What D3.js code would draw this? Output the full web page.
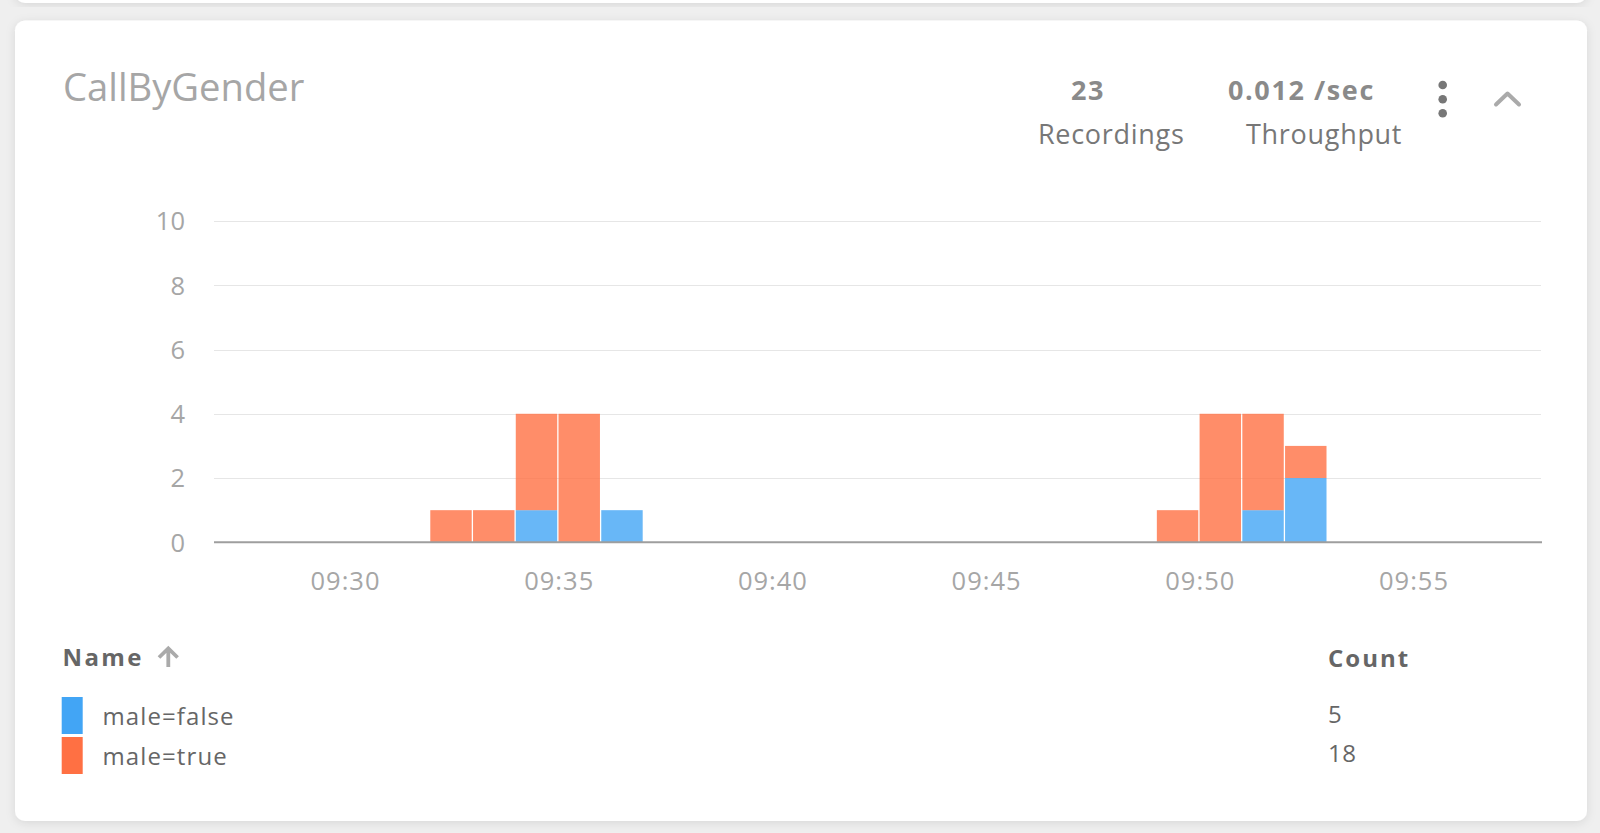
<!DOCTYPE html>
<html>
<head>
<meta charset="utf-8">
<script src="https://cdn.jsdelivr.net/npm/d3@7"></script>
<style>
  html, body { margin: 0; padding: 0; background: #efefef; overflow: hidden; }
  svg { display: block; font-family: "Open Sans", sans-serif; }
</style>
</head>
<body>
<svg id="chart" width="1600" height="833"></svg>
<script>
// ---- data ----
const title = "CallByGender";
const binTimes = ["09:32", "09:33", "09:34", "09:35", "09:36", "09:49", "09:50", "09:51", "09:52"];
const maleFalse = [0, 0, 1, 0, 1, 0, 0, 1, 2];
const maleTrue  = [1, 1, 3, 4, 0, 1, 4, 3, 1];
const seriesNames = ["male=false", "male=true"];
const seriesCounts = [5, 18];
const yTicks = [0, 2, 4, 6, 8, 10];
const xDomain = ["09:27", "09:58"];
const statValues = ["23", "0.012 /sec"];
const statLabels = ["Recordings", "Throughput"];

const colors = ["#42A5F5", "#FF7043"];

const parse = d3.timeParse("%H:%M");
const svg = d3.select("#chart");

// ---- cards ----
const defs = svg.append("defs");
const f = defs.append("filter").attr("id", "shadow").attr("x", "-5%").attr("y", "-10%").attr("width", "110%").attr("height", "120%");
f.append("feDropShadow").attr("dx", 0).attr("dy", 2).attr("stdDeviation", 5).attr("flood-color", "#000").attr("flood-opacity", 0.10);

svg.append("rect").attr("x", 15).attr("y", -30).attr("width", 1572).attr("height", 33)
  .attr("rx", 10).attr("fill", "#fff").attr("filter", "url(#shadow)");
svg.append("rect").attr("x", 15).attr("y", 20.5).attr("width", 1572).attr("height", 800.5)
  .attr("rx", 10).attr("fill", "#fff").attr("filter", "url(#shadow)");

// ---- header ----
svg.append("text").attr("x", 63).attr("y", 101).attr("font-size", 38.2).attr("fill", "#a6a6a6").text(title);

const statX = [1071, 1228];
const labelX = [1038, 1246];
statValues.forEach((v, i) => {
  svg.append("text").attr("x", statX[i]).attr("y", 99.5).attr("font-size", 27).attr("font-weight", 700)
    .attr("letter-spacing", 1.6).attr("fill", "#8a8a8a").text(v);
  svg.append("text").attr("x", labelX[i]).attr("y", 143.5).attr("font-size", 27)
    .attr("letter-spacing", 0.7).attr("fill", "#777").text(statLabels[i]);
});
[85, 99.3, 113.3].forEach(cy => {
  svg.append("circle").attr("cx", 1442.7).attr("cy", cy).attr("r", 4.3).attr("fill", "#777");
});
svg.append("path").attr("d", "M1496,104.5 L1507.5,93.5 L1519,104.5").attr("fill", "none")
  .attr("stroke", "#aaa").attr("stroke-width", 4).attr("stroke-linecap", "round").attr("stroke-linejoin", "round");

// ---- chart ----
const x = d3.scaleTime().domain(xDomain.map(parse)).range([216.3, 1541.2]);
const y = d3.scaleLinear().domain([0, 10]).range([542.3, 221]);
const plotLeft = 214, plotRight = 1542;

const grid = svg.append("g");
grid.selectAll("line").data(yTicks.filter(t => t > 0)).join("line")
  .attr("x1", plotLeft).attr("x2", plotRight - 1)
  .attr("y1", d => Math.round(y(d)) + 0.5).attr("y2", d => Math.round(y(d)) + 0.5)
  .attr("stroke", "#e6e6e6").attr("stroke-width", 1);

const yAxis = svg.append("g").attr("transform", `translate(${plotLeft},0)`)
  .call(d3.axisLeft(y).tickValues(yTicks).tickSize(0).tickPadding(29).tickFormat(d3.format("d")));
yAxis.select(".domain").remove();
yAxis.selectAll("text").attr("font-size", 25.5).attr("fill", "#a6a6a6").attr("font-family", "Open Sans").attr("dy", "0.35em");

const rows = binTimes.map((t, i) => ({ t: parse(t), f: maleFalse[i], m: maleTrue[i] }));
const stack = d3.stack().keys(["f", "m"])(rows);
const minute = 60 * 1000;

svg.append("g").selectAll("g").data(stack).join("g")
  .attr("fill", (d, i) => colors[i]).attr("fill-opacity", 0.8)
  .selectAll("rect").data(d => d.filter(p => p[1] > p[0])).join("rect")
  .attr("x", d => x(d.data.t) + 0.3)
  .attr("width", d => x(new Date(+d.data.t + minute)) - x(d.data.t) - 1.3)
  .attr("y", d => y(d[1]))
  .attr("height", d => y(d[0]) - y(d[1]));

const xAxis = svg.append("g").attr("transform", `translate(0,${y(0)})`)
  .call(d3.axisBottom(x).ticks(d3.timeMinute.every(5)).tickSize(0).tickPadding(0).tickFormat(d3.timeFormat("%H:%M")));
xAxis.select(".domain").remove();
xAxis.selectAll("text").attr("font-size", 25.5).attr("fill", "#a6a6a6").attr("font-family", "Open Sans")
  .attr("letter-spacing", 1).attr("x", 0.5).attr("y", 47.5).attr("dy", 0);
svg.append("line").attr("x1", plotLeft).attr("x2", plotRight).attr("y1", y(0)).attr("y2", y(0))
  .attr("stroke", "#9e9e9e").attr("stroke-width", 2);

// ---- legend table ----
svg.append("text").attr("x", 62.5).attr("y", 665.5).attr("font-size", 24).attr("font-weight", 700)
  .attr("letter-spacing", 2.4).attr("fill", "#666").text("Name");
svg.append("path").attr("d", "M168.3,667 V650 M159,657.5 L168.3,648.5 L177.6,657.5").attr("fill", "none")
  .attr("stroke", "#aaa").attr("stroke-width", 3.8);
svg.append("text").attr("x", 1328).attr("y", 666.5).attr("font-size", 24).attr("font-weight", 700)
  .attr("letter-spacing", 2).attr("fill", "#666").text("Count");

const rowY = [697, 737];
seriesNames.forEach((n, i) => {
  svg.append("rect").attr("x", 61.7).attr("y", rowY[i]).attr("width", 21).attr("height", 37).attr("fill", colors[i]);
  svg.append("text").attr("x", 102.5).attr("y", [725, 764.5][i]).attr("font-size", 24).attr("letter-spacing", 1.1)
    .attr("fill", "#666").text(n);
  svg.append("text").attr("x", 1328).attr("y", [722.5, 761.5][i]).attr("font-size", 24).attr("letter-spacing", 0.5)
    .attr("fill", "#666").text(seriesCounts[i]);
});
</script>
</body>
</html>
